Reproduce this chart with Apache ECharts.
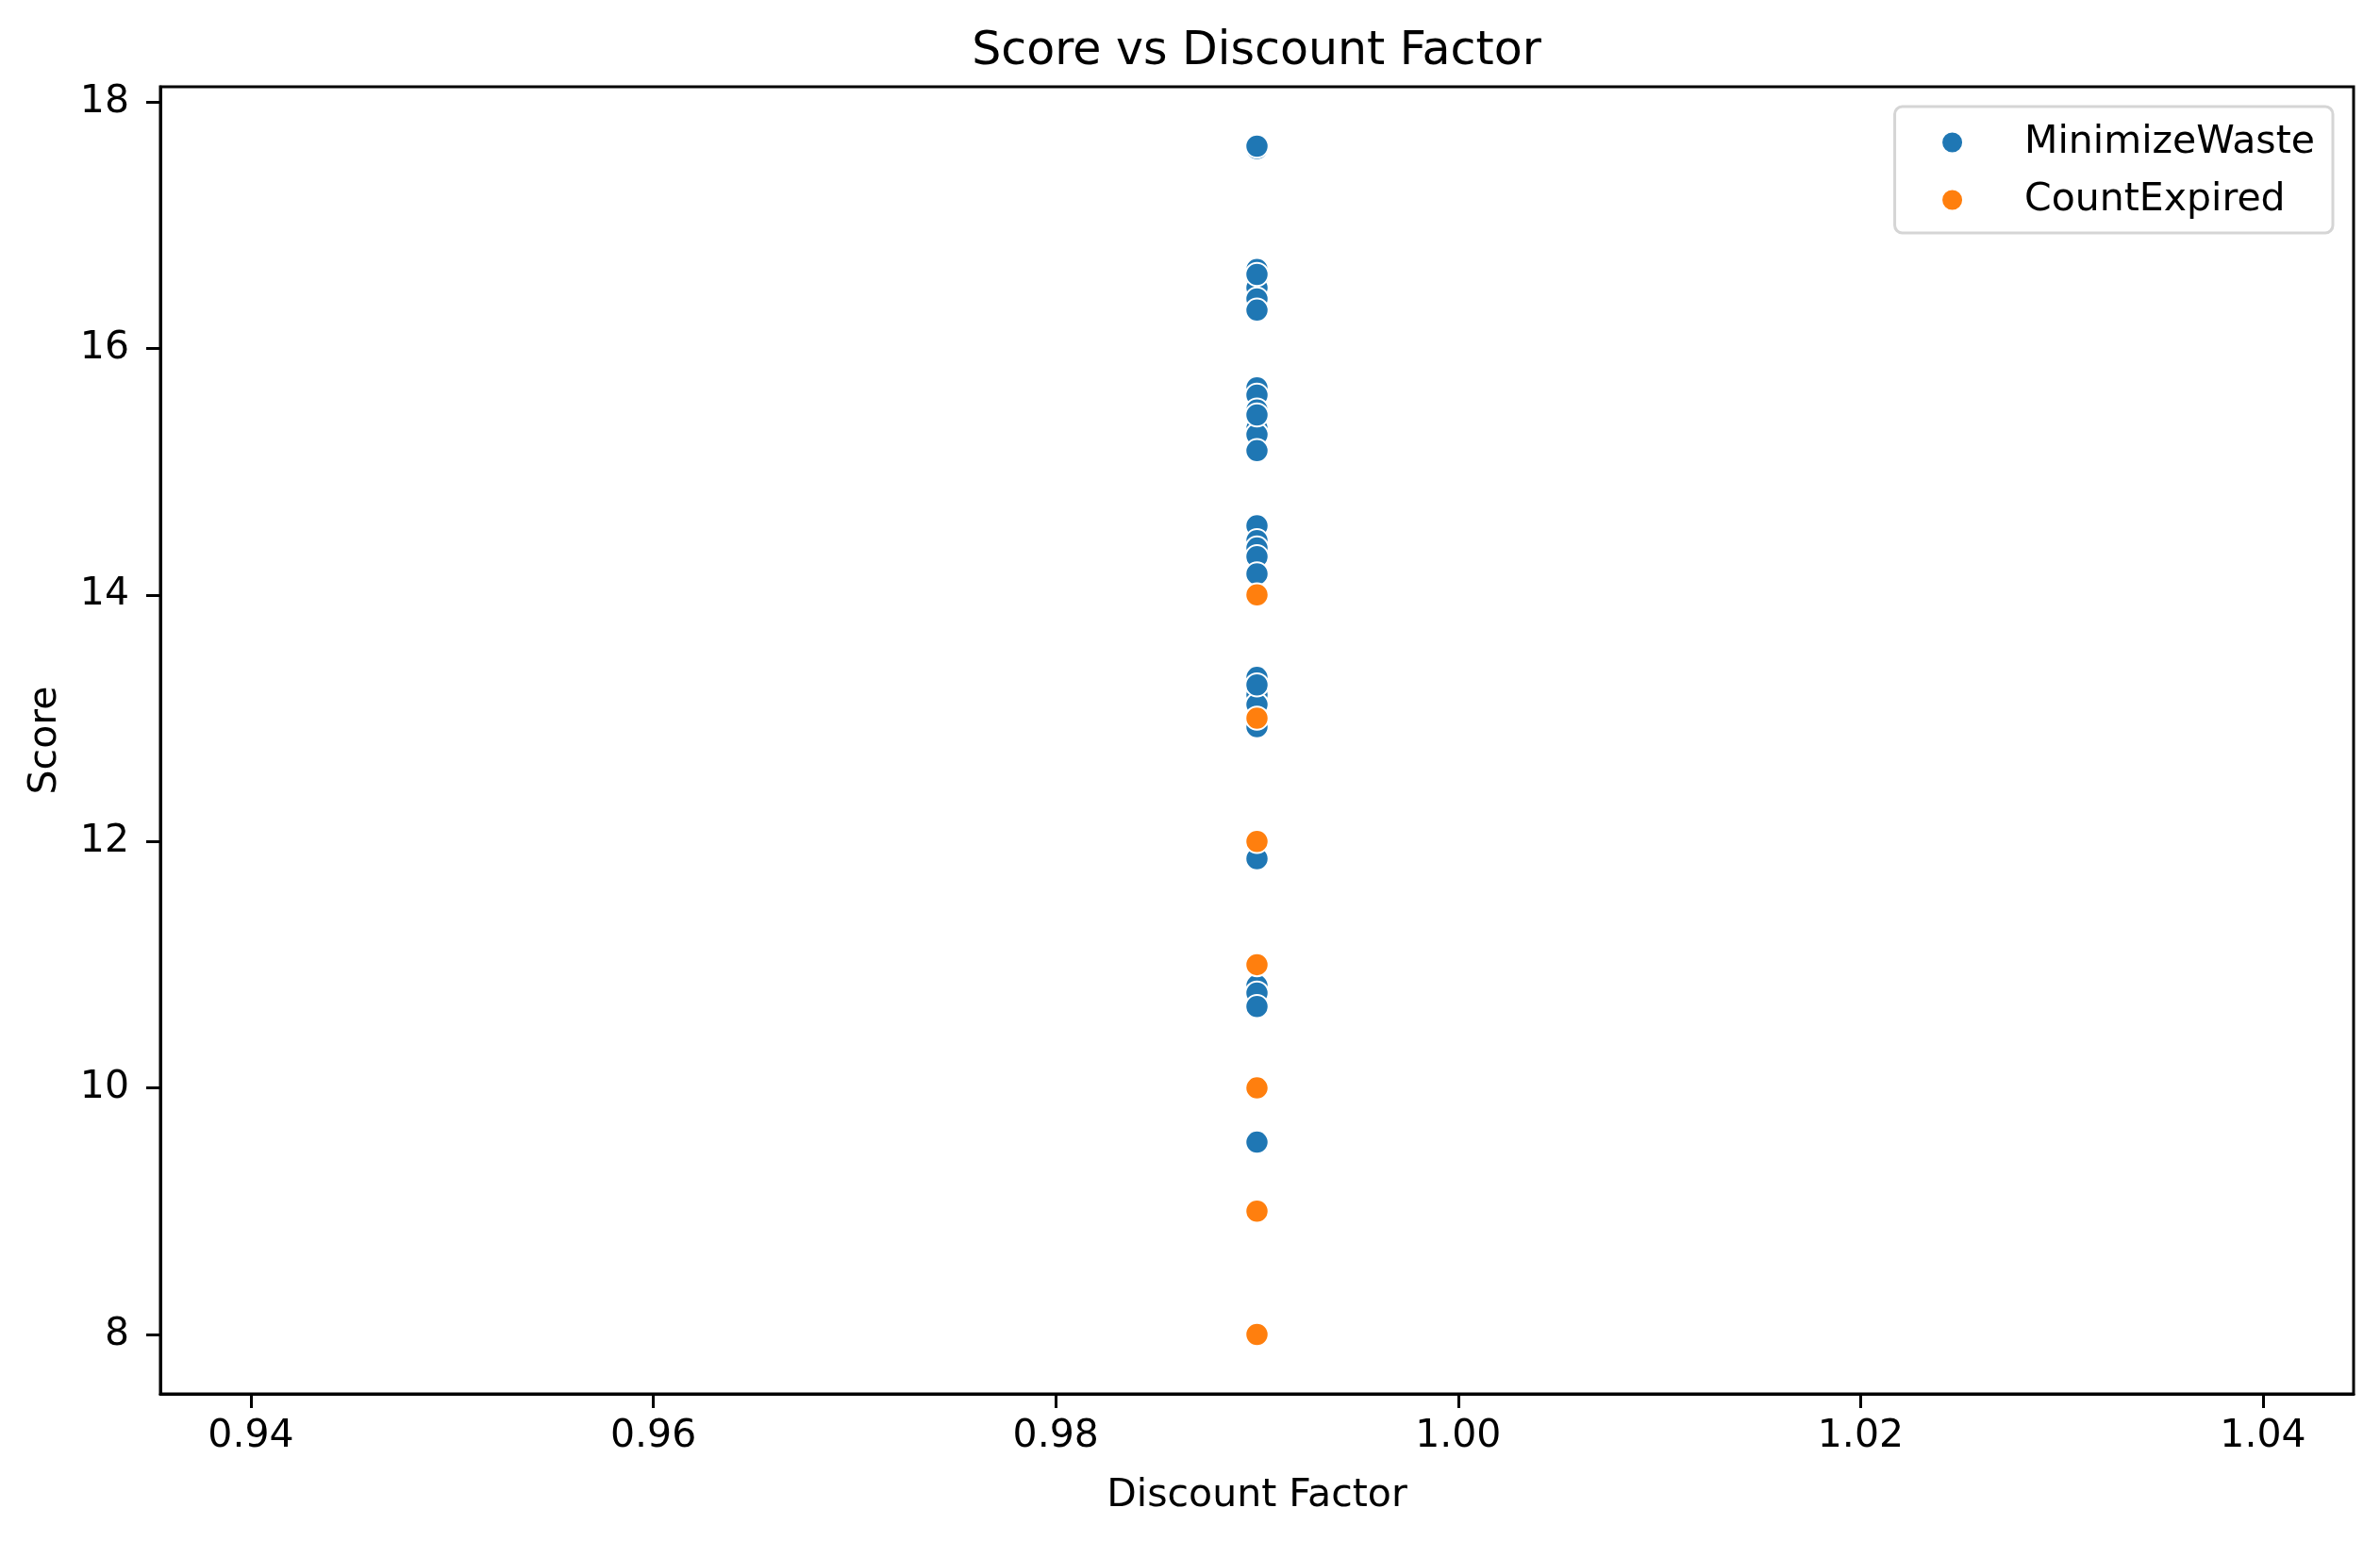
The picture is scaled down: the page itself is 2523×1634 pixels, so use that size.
<!DOCTYPE html>
<html>
<head>
<meta charset="utf-8">
<title>Score vs Discount Factor</title>
<script src="https://cdn.jsdelivr.net/npm/echarts@6/dist/echarts.min.js"></script>
<style>
  html, body { margin: 0; padding: 0; background: #fff; }
  #chart_score { width: 2523px; height: 1634px; }
</style>
</head>
<body>
<div id="chart_score"></div>
<script>
// every run used the same discount factor
var discount_factor = 0.99;
var score_minimize_waste = [17.62, 17.64, 16.64, 16.55, 16.49, 16.40, 16.31, 16.60,
    15.68, 15.62, 15.50, 15.35, 15.30, 15.17, 15.46,
    14.56, 14.44, 14.38, 14.31, 14.17,
    13.33, 13.19, 13.11, 12.93, 13.27,
    11.86, 10.83, 10.77, 10.66, 9.56];
var score_count_expired = [14, 13, 12, 11, 10, 9, 8];
var x_ticks = [0.94, 0.96, 0.98, 1.00, 1.02, 1.04];
var y_ticks = [8, 10, 12, 14, 16, 18];

var FONT = 'DejaVu Sans';

function toPoints(scores){
    var pts = [];
    for(var i=0;i<scores.length;i++){
        pts.push([discount_factor, scores[i]]);
    }
    return pts;
}

var myChart = echarts.init(document.getElementById('chart_score'));
var option = {
    backgroundColor: '#ffffff',
    animation: false,
    title: {
        text: 'Score vs Discount Factor',
        left: 1332,
        top: 31,
        padding: 0,
        textAlign: 'center',
        textStyle: {
            fontFamily: FONT,
            fontSize: 49,
            fontWeight: 'normal',
            color: '#000'
        }
    },
    grid: {
        left: 170,
        top: 92,
        right: 28,
        bottom: 156,
        show: true,
        borderColor: '#000',
        borderWidth: 3,
        containLabel: false
    },
    legend: {
        orient: 'vertical',
        right: 50,
        top: 113,
        padding: [17, 19, 14, 48.5],
        itemWidth: 23,
        itemHeight: 23,
        itemGap: 19,
        backgroundColor: '#ffffff',
        borderColor: '#d5d5d5',
        borderWidth: 3,
        borderRadius: 8,
        textStyle: {
            fontFamily: FONT,
            fontSize: 41,
            color: '#000',
            lineHeight: 42,
            padding: [0, 0, 0, 60]
        },
        data: ['MinimizeWaste', 'CountExpired']
    },
    xAxis: {
        type: 'value',
        min: 0.9355,
        max: 1.0445,
        name: 'Discount Factor',
        nameLocation: 'middle',
        nameGap: 88,
        nameTextStyle: { fontFamily: FONT, fontSize: 41, color: '#000' },
        splitLine: { show: false },
        axisLine: { show: true, lineStyle: { color: '#000', width: 3 } },
        axisTick: { show: true, length: 15, lineStyle: { color: '#000', width: 3 }, customValues: x_ticks },
        axisLabel: {
            fontFamily: FONT, fontSize: 41, color: '#000', margin: 25,
            customValues: x_ticks,
            formatter: function(v){ return v.toFixed(2); }
        }
    },
    yAxis: {
        type: 'value',
        min: 7.518,
        max: 18.122,
        name: 'Score',
        nameLocation: 'middle',
        nameGap: 101,
        nameRotate: 90,
        nameTextStyle: { fontFamily: FONT, fontSize: 41, color: '#000' },
        splitLine: { show: false },
        axisLine: { show: true, lineStyle: { color: '#000', width: 3 } },
        axisTick: { show: true, length: 15, lineStyle: { color: '#000', width: 3 }, customValues: y_ticks },
        axisLabel: {
            fontFamily: FONT, fontSize: 41, color: '#000', margin: 33,
            customValues: y_ticks,
            formatter: function(v){ return String(Math.round(v)); }
        }
    },
    series: [
        {
            name: 'MinimizeWaste',
            type: 'scatter',
            symbol: 'circle',
            symbolSize: 24.5,
            itemStyle: { color: '#1f77b4', borderColor: '#ffffff', borderWidth: 2, opacity: 1 },
            data: toPoints(score_minimize_waste)
        },
        {
            name: 'CountExpired',
            type: 'scatter',
            symbol: 'circle',
            symbolSize: 24.5,
            itemStyle: { color: '#ff7f0e', borderColor: '#ffffff', borderWidth: 2, opacity: 1 },
            data: toPoints(score_count_expired)
        }
    ]
};
myChart.setOption(option);
</script>
</body>
</html>
